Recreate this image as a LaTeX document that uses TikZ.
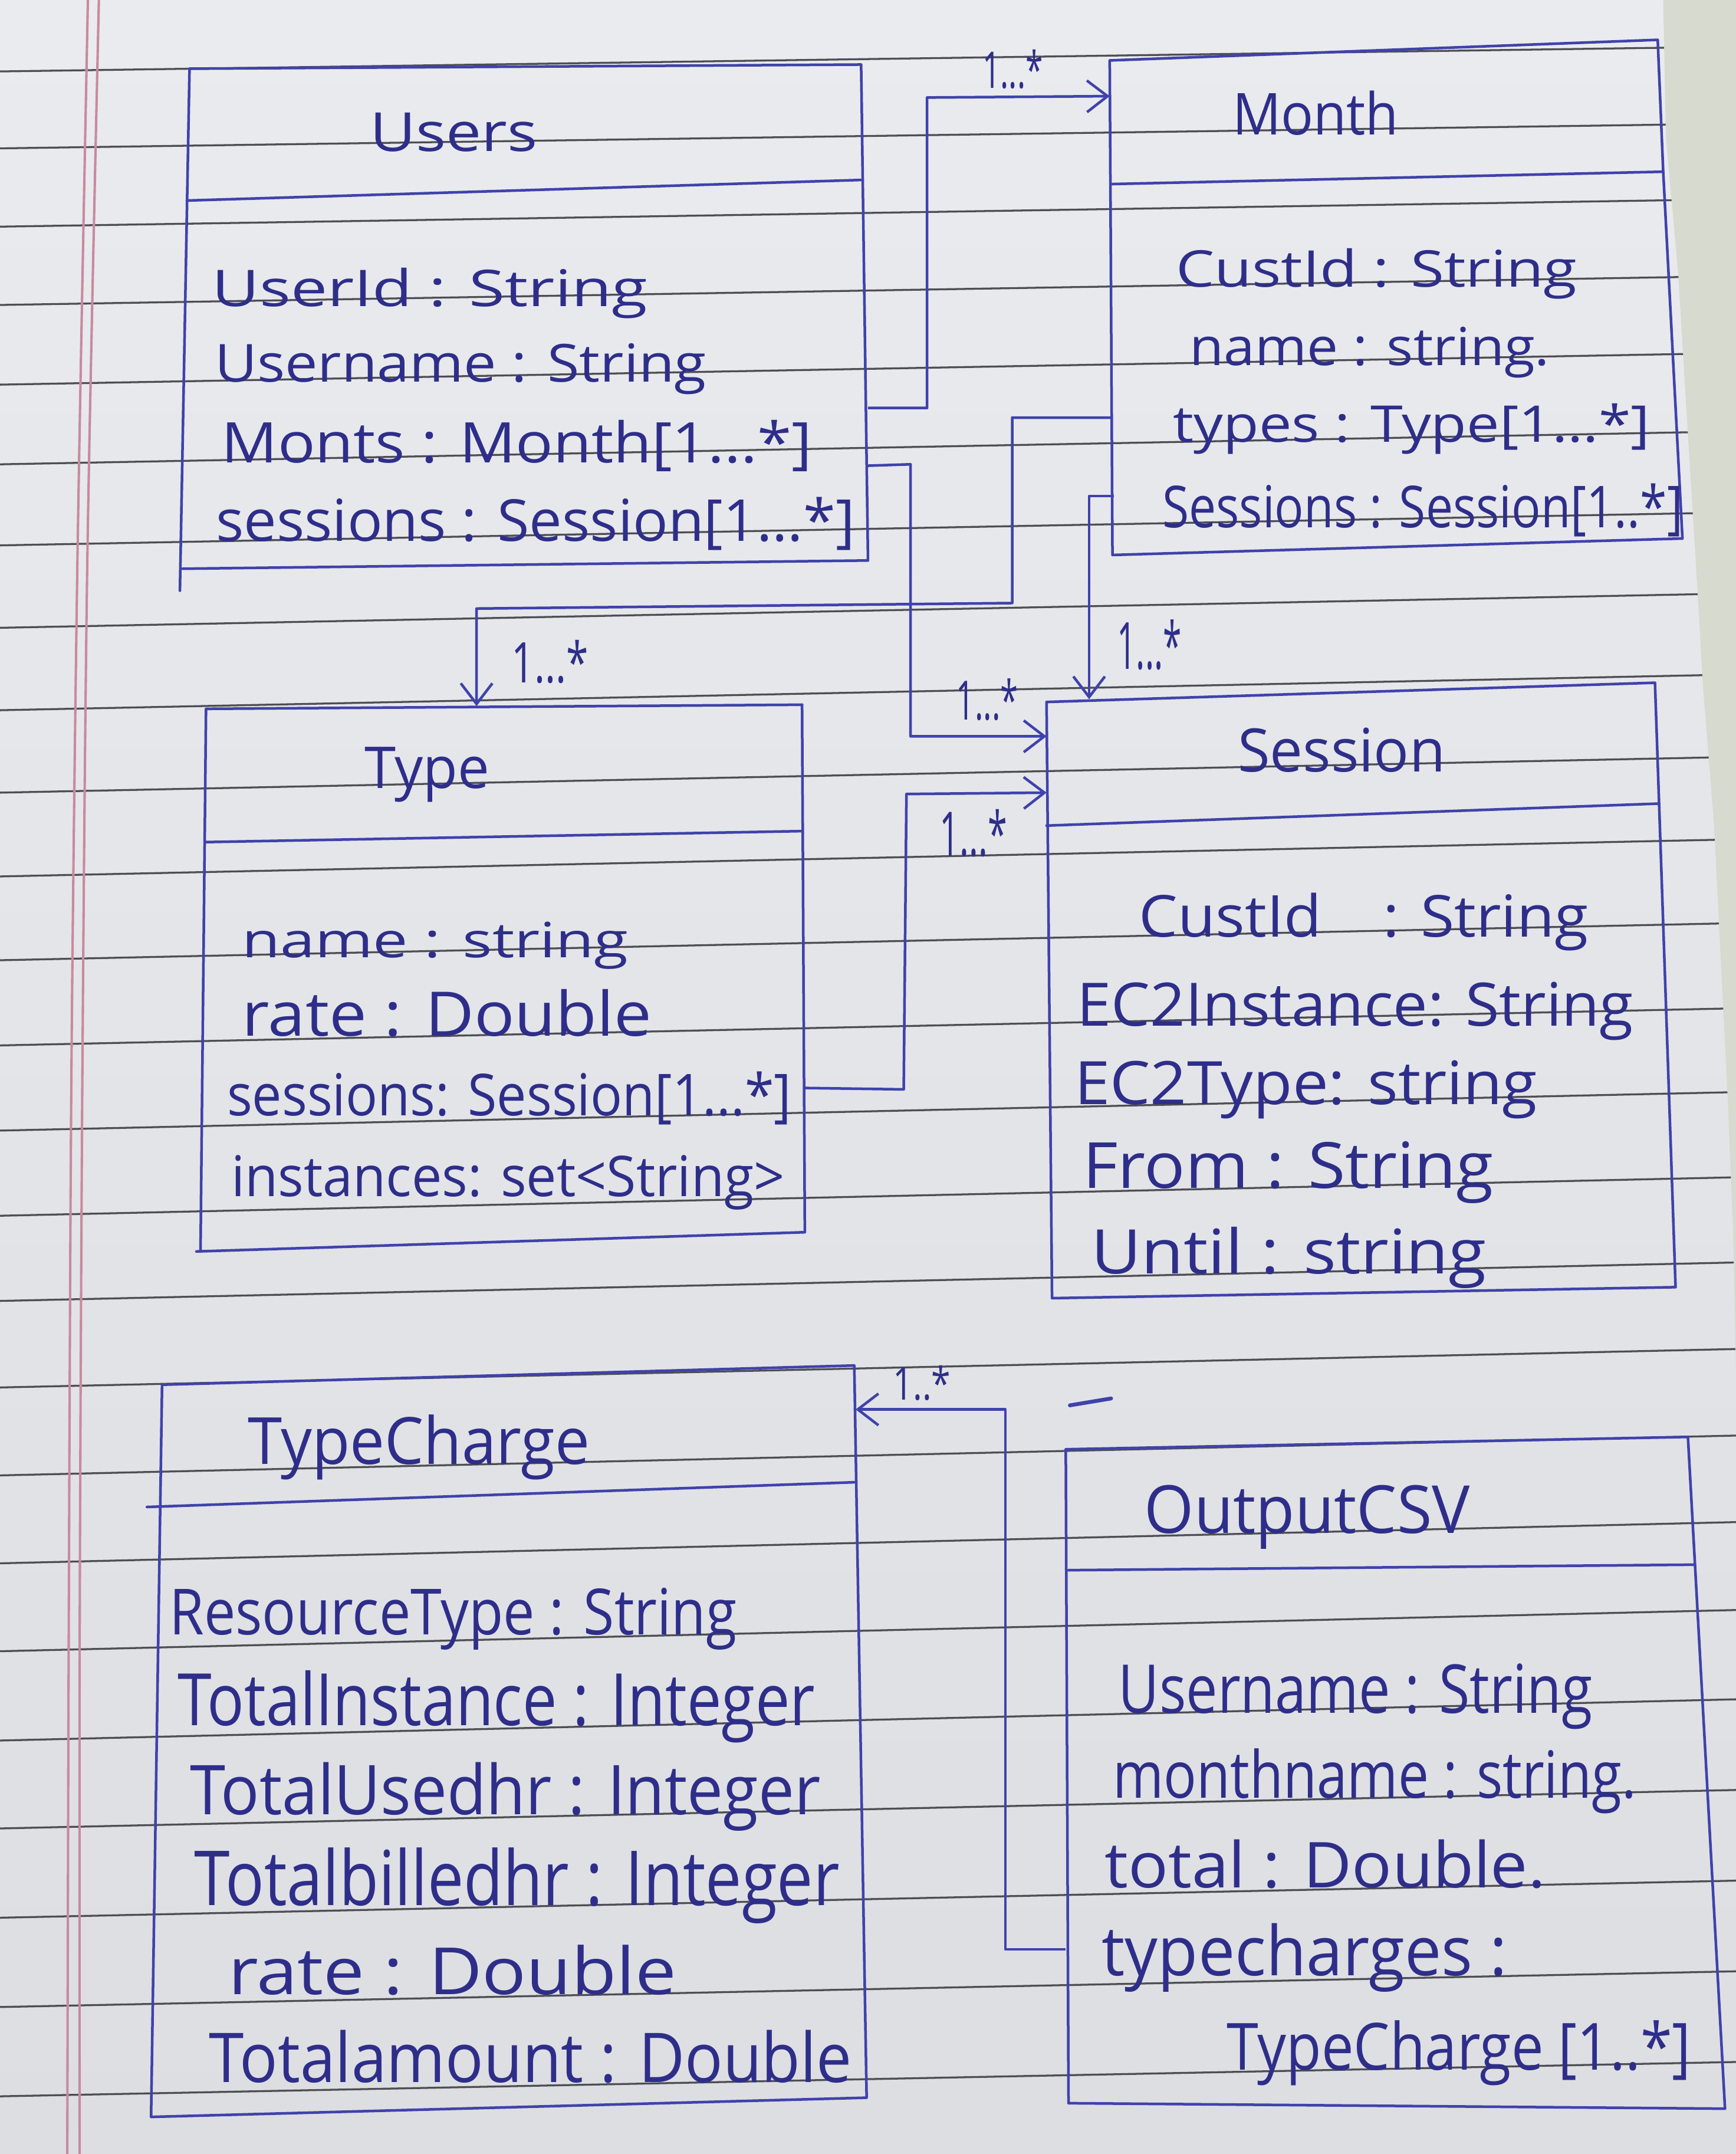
\documentclass[tikz,border=0pt]{standalone}
\usepackage{fontspec}
\setmainfont{Open Sans}
\usepackage{graphicx}
\usetikzlibrary{arrows.meta}

% one drawing unit
\newlength\pxu
\setlength\pxu{0.02cm}
% hand-lettered line: width, height above baseline, text
\newcommand\hw[3]{\resizebox{#1\pxu}{#2\pxu}{#3}}

\definecolor{paperT}{RGB}{234,235,238}
\definecolor{paperB}{RGB}{221,222,226}
\definecolor{desk}{RGB}{214,218,207}
\definecolor{rulecol}{RGB}{78,78,84}
\definecolor{margincol}{RGB}{200,138,158}
\definecolor{ink}{RGB}{46,46,138}
\definecolor{pen}{RGB}{64,66,172}

\tikzset{
  box/.style={draw=pen, line width=1.1pt, line join=round, line cap=round},
  link/.style={draw=pen, line width=1.1pt, line join=round,
    -{Straight Barb[length=0.3cm, width=0.46cm]}},
  txt/.style={anchor=base west, inner sep=0pt, text=ink},
  ruling/.style={draw=rulecol, line width=0.8pt},
}

\begin{document}
\begin{tikzpicture}[x=0.02cm, y=-0.02cm]
\useasboundingbox (0,0) rectangle (1264,1568);

% ---------- ruled notebook paper ----------
\shade[top color=paperT, bottom color=paperB] (0,0) rectangle (1264,1568);
\foreach \l/\d in {52/18,108/18,165/20,222/21,280/23,338/24,397/24,457/25,
  517/26,577/26,638/27,699/27,761/27,823/28,885/28,947/28,1010/28,1074/29,
  1138/30,1202/30,1267/30,1331/28,1396/27,1461/26,1526/25}
  \draw[ruling] (0,\l) -- (1264,\l-\d);
\draw[margincol, line width=1pt] plot[smooth] coordinates
  {(64,0) (56.5,400) (52,780) (50,1200) (49,1568)};
\draw[margincol, line width=1pt] plot[smooth] coordinates
  {(72,0) (63.7,400) (60,780) (58,1200) (58,1568)};
% desk showing past the page edge
\fill[desk] (1211,0) -- (1213,100) -- (1222,200) -- (1228,300) -- (1236,430)
  -- (1240,500) -- (1248,600) -- (1253,700) -- (1258,800) -- (1262,900)
  -- (1264,1000) -- (1264,0) -- cycle;

% ---------- class boxes ----------
% Users
\coordinate (uTL) at (138,50);  \coordinate (uTR) at (627,47);
\coordinate (uBR) at (632,408); \coordinate (uBL) at (133,414);
\draw[box] (uBL) -- (uBR) -- (uTR) -- (uTL) -- (131,430);
\draw[box] (136,146) -- (627,131);
% Month
\coordinate (mTL) at (808,44);  \coordinate (mTR) at (1207,29);
\coordinate (mBR) at (1225,392); \coordinate (mBL) at (810,404);
\draw[box] (mTL) -- (mTR) -- (1211,125) -- (mBR) -- (mBL) -- cycle;
\draw[box] (809,134) -- (1211,125);
% Type
\coordinate (tTL) at (150,516); \coordinate (tTR) at (584,513);
\coordinate (tBR) at (586,897); \coordinate (tBL) at (146,910);
\draw[box] (tTR) -- (tTL) -- (tBL);
\draw[box] (143,911) -- (tBR) -- (tTR);
\draw[box] (150,613) -- (584,605);
% Session
\coordinate (sTL) at (762,511); \coordinate (sTR) at (1205,497);
\coordinate (sBR) at (1220,937); \coordinate (sBL) at (766,945);
\draw[box] (sTL) -- (sTR) -- (sBR) -- (sBL) -- cycle;
\draw[box] (762,601) -- (1207,585);
% TypeCharge
\coordinate (cTL) at (118,1008); \coordinate (cTR) at (622,994);
\coordinate (cBR) at (631,1527); \coordinate (cBL) at (110,1541);
\draw[box] (cTL) -- (cTR) -- (cBR) -- (cBL) -- cycle;
\draw[box] (107,1097) -- (622,1079);
% OutputCSV
\coordinate (oTL) at (776,1055); \coordinate (oTR) at (1229,1046);
\coordinate (oBR) at (1256,1535); \coordinate (oBL) at (778,1531);
\draw[box] (oTL) -- (oTR) -- (oBR) -- (oBL) -- cycle;
\draw[box] (778,1143) -- (1233,1139);

% ---------- class texts ----------
\node[txt] (u-title) at (269,110) {\hw{122}{28}{Users}};
\node[txt] (u-a1) at (154,223) {\hw{317}{28}{UserId : String}};
\node[txt] (u-a2) at (156,278) {\hw{358}{28}{Username : String}};
\node[txt] (u-a3) at (161,337) {\hw{430}{31}{Monts : Month[1...*]}};
\node[txt] (u-a4) at (157,394) {\hw{465}{32}{sessions : Session[1...*]}};

\node[txt] (m-title) at (897,98) {\hw{121}{32}{Month}};
\node[txt] (m-a1) at (856,209) {\hw{292}{28}{CustId : String}};
\node[txt] (m-a2) at (866,266) {\hw{262}{28}{name : string.}};
\node[txt] (m-a3) at (854,322) {\hw{347}{28}{types : Type[1...*]}};
\node[txt] (m-a4) at (846,384) {\hw{379}{32}{Sessions : Session[1..*]}};

\node[txt] (t-title) at (265,574) {\hw{91}{30}{Type}};
\node[txt] (t-a1) at (176,697) {\hw{281}{26}{name : string}};
\node[txt] (t-a2) at (176,754) {\hw{298}{34}{rate : Double}};
\node[txt] (t-a3) at (165,812) {\hw{411}{32}{sessions: Session[1...*]}};
\node[txt] (t-a4) at (168,871) {\hw{403}{30}{instances: set<String>}};

\node[txt] (s-title) at (901,562) {\hw{151}{32}{Session}};
\node[txt] (s-a1) at (829,682) {\hw{327}{32}{CustId\quad : String}};
\node[txt] (s-a2) at (784,747) {\hw{405}{32}{EC2Instance: String}};
\node[txt] (s-a3) at (782,804) {\hw{337}{32}{EC2Type: string}};
\node[txt] (s-a4) at (788,865) {\hw{299}{34}{From : String}};
\node[txt] (s-a5) at (794,927) {\hw{288}{34}{Until : string}};

\node[txt] (c-title) at (180,1066) {\hw{249}{36}{TypeCharge}};
\node[txt] (c-a1) at (123,1190) {\hw{413}{34}{ResourceType : String}};
\node[txt] (c-a2) at (129,1256) {\hw{464}{40}{TotalInstance : Integer}};
\node[txt] (c-a3) at (138,1321) {\hw{459}{38}{TotalUsedhr : Integer}};
\node[txt] (c-a4) at (141,1387) {\hw{470}{42}{Totalbilledhr : Integer}};
\node[txt] (c-a5) at (166,1452) {\hw{326}{36}{rate : Double}};
\node[txt] (c-a6) at (152,1516) {\hw{468}{38}{Totalamount : Double}};

\node[txt] (o-title) at (833,1116) {\hw{237}{35}{OutputCSV}};
\node[txt] (o-a1) at (814,1247) {\hw{345}{36}{Username : String}};
\node[txt] (o-a2) at (810,1309) {\hw{381}{36}{monthname : string.}};
\node[txt] (o-a3) at (804,1374) {\hw{321}{35}{total : Double.}};
\node[txt] (o-a4) at (802,1438) {\hw{295}{38}{typecharges :}};
\node[txt] (o-a5) at (893,1507) {\hw{338}{36}{TypeCharge [1..*]}};

% ---------- associations ----------
\coordinate (users-months) at (632,297);  \coordinate (month-in) at (808,70);
\coordinate (month-types) at (810,304);   \coordinate (type-in) at (347,514);
\coordinate (users-sess) at (632,339);    \coordinate (sess-in1) at (762,536);
\coordinate (month-sess) at (811,361);    \coordinate (sess-in2) at (793,509);
\coordinate (type-sess) at (586,792);     \coordinate (sess-in3) at (762,577);
\coordinate (out-charges) at (776,1419);  \coordinate (charge-in) at (623,1026);

\draw[link] (users-months) -- (675,297) -- (675,71) -- (month-in);
\draw[link] (month-types) -- (737,304) -- (737,439) -- (347,443) -- (type-in);
\draw[link] (users-sess) -- (663,338) -- (663,536) -- (sess-in1);
\draw[link] (month-sess) -- (793,361) -- (sess-in2);
\draw[link] (type-sess) -- (658,793) -- (660,578) -- (sess-in3);
\draw[link] (out-charges) -- (732,1419) -- (732,1026) -- (charge-in);

% multiplicities
\node[txt] (l-um) at (715,64) {\hw{44}{28}{1...*}};
\node[txt] (l-mt) at (372,497) {\hw{56}{31}{1...*}};
\node[txt] (l-us) at (696,524) {\hw{45}{30}{1...*}};
\node[txt] (l-ms) at (813,487) {\hw{47}{36}{1...*}};
\node[txt] (l-ts) at (684,623) {\hw{49}{34}{1...*}};
\node[txt] (l-oc) at (650,1019) {\hw{42}{25}{1..*}};

% stray pen stroke
\draw[pen, line width=1.6pt, line cap=round] (779,1023) -- (809,1018);
\end{tikzpicture}
\end{document}
